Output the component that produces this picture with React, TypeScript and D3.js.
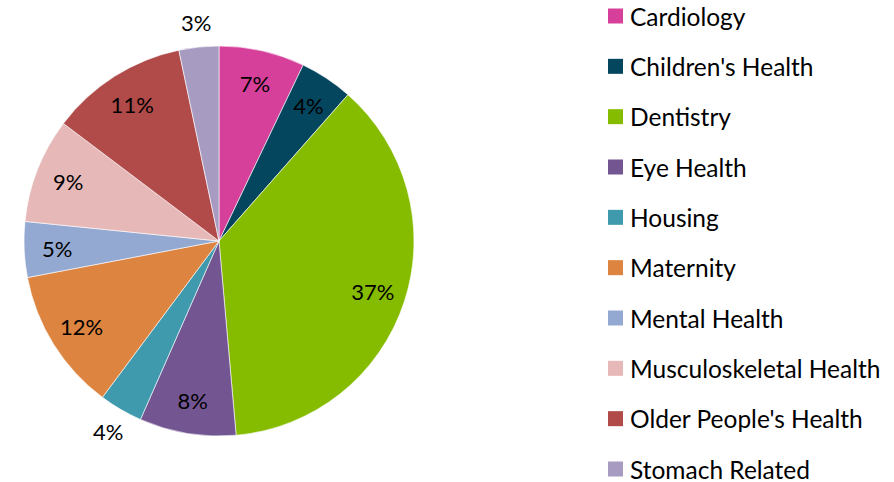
import React from "react";
import * as d3 from "d3";

const categories = [
  "Cardiology",
  "Children's Health",
  "Dentistry",
  "Eye Health",
  "Housing",
  "Maternity",
  "Mental Health",
  "Musculoskeletal Health",
  "Older People's Health",
  "Stomach Related",
];
const shares = [7.1, 4.4, 37.1, 8.0, 3.6, 11.8, 4.6, 8.7, 11.4, 3.3];
const colors = [
  "#d6409a", "#05465f", "#86bc00", "#735592", "#3f9aae",
  "#dc8440", "#94a9d1", "#e6b8b7", "#b04b4a", "#a89bc1",
];
const outsideLabels = ["Housing", "Stomach Related"];

const FONT = "Lato, 'Noto Sans', sans-serif";

const App = () => {
  const ref = React.useRef<SVGSVGElement>(null);
  const width = 894, height = 482;
  const cx = 219, cy = 241, radius = 195;

  React.useEffect(() => {
    const svg = d3.select(ref.current);
    svg.selectAll("*").remove();

    const data = categories.map((name, i) => ({ name, value: shares[i] }));
    const total = d3.sum(shares);
    const pie = d3.pie<any>().sort(null).value(d => d.value);
    const arcs = pie(data);
    const arc = d3.arc<any>().innerRadius(0).outerRadius(radius);
    const labelArc = d3.arc<any>().innerRadius(162).outerRadius(162);
    const outerArc = d3.arc<any>().innerRadius(220).outerRadius(220);
    const color = d3.scaleOrdinal<string>().domain(categories).range(colors);

    const g = svg.append("g").attr("transform", `translate(${cx},${cy})`);
    g.selectAll("path")
      .data(arcs)
      .join("path")
      .attr("d", arc)
      .attr("fill", d => color(d.data.name))
      .attr("stroke", "#fff")
      .attr("stroke-width", 0.6);

    g.selectAll("text")
      .data(arcs)
      .join("text")
      .attr("transform", d => {
        const c = outsideLabels.includes(d.data.name) ? outerArc.centroid(d) : labelArc.centroid(d);
        return `translate(${c[0]},${c[1]})`;
      })
      .attr("text-anchor", "middle")
      .attr("dominant-baseline", "central")
      .attr("font-family", FONT)
      .attr("font-size", 22)
      .attr("fill", "#000")
      .text(d => `${Math.round((d.data.value / total) * 100)}%`);

    const y = d3.scalePoint<string>().domain(categories).range([16, 469]);
    const legend = svg.append("g").selectAll("g")
      .data(categories)
      .join("g")
      .attr("transform", d => `translate(608,${y(d)})`);
    legend.append("rect")
      .attr("x", 0).attr("y", -7.5)
      .attr("width", 15).attr("height", 15)
      .attr("fill", d => color(d));
    legend.append("text")
      .attr("x", 22)
      .attr("dominant-baseline", "central")
      .attr("font-family", FONT)
      .attr("font-size", 24.5)
      .attr("fill", "#000")
      .text(d => d);
  }, []);

  return (
    <svg ref={ref} width={width} height={height}
      style={{ position: "absolute", left: 0, top: 0, background: "#fff" }} />
  );
};

export default App;
